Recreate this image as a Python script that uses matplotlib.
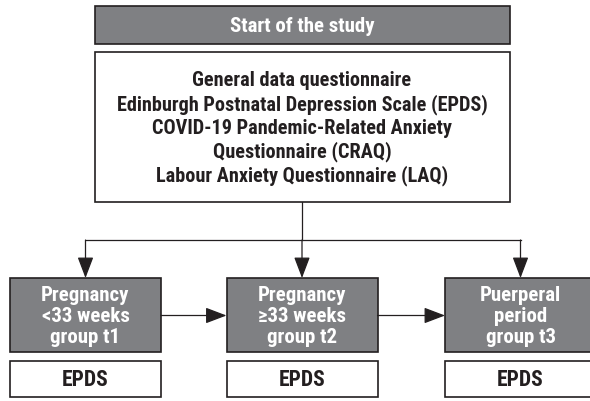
import matplotlib
matplotlib.use('Agg')
import matplotlib.pyplot as plt
from matplotlib.patches import Rectangle

# ── texts ──────────────────────────────────────────────────────────────────────
start_label = "Start of the study"
questionnaires = [
    "General data questionnaire",
    "Edinburgh Postnatal Depression Scale (EPDS)",
    "COVID-19 Pandemic-Related Anxiety",
    "Questionnaire (CRAQ)",
    "Labour Anxiety Questionnaire (LAQ)",
]
groups = [
    "Pregnancy\n<33 weeks\ngroup t1",
    "Pregnancy\n≥33 weeks\ngroup t2",
    "Puerperal\nperiod\ngroup t3",
]
group_tools = ["EPDS", "EPDS", "EPDS"]

# ── layout (pixel coords, y down) ──────────────────────────────────────────────
W, H = 590, 402
GRAY = '#7f8083'
DARK = '#231f20'
FONT = ['Roboto Condensed', 'DejaVu Sans Condensed', 'Liberation Sans Narrow',
        'Roboto', 'DejaVu Sans']

fig = plt.figure(figsize=(W / 100, H / 100), dpi=100)
ax = fig.add_axes([0, 0, 1, 1])
ax.set_xlim(0, W)
ax.set_ylim(H, 0)
ax.axis('off')


def box(x0, y0, x1, y1, fc):
    ax.add_patch(Rectangle((x0, y0), x1 - x0, y1 - y0, facecolor=fc,
                           edgecolor=DARK, lw=1.2, zorder=2))


def arrow(x0, y0, x1, y1):
    ax.annotate('', xy=(x1, y1), xytext=(x0, y0),
                arrowprops=dict(arrowstyle='-|>,head_length=1.0,head_width=0.38',
                                mutation_scale=13, color=DARK, lw=0.9,
                                shrinkA=0, shrinkB=0), zorder=3)


txt = dict(family=FONT, fontweight='bold', ha='center', va='center',
           fontstretch='condensed')

# top header box
box(95, 7, 510, 45, GRAY)
ax.text(302, 26.5, start_label, color='white', fontsize=15, **txt, zorder=4)

# questionnaire box
box(95, 53, 510, 203, 'white')
line_y = [81, 104.5, 128, 152, 176]
for s, y in zip(questionnaires, line_y):
    ax.text(302, y, s, color=DARK, fontsize=14.6, **txt, zorder=4)

# connectors
centers = [85.5, 302, 520.5]
ax.plot([302, 302], [203, 241], color=DARK, lw=0.9, zorder=1)
ax.plot([centers[0], centers[-1]], [241, 241], color=DARK, lw=0.9, zorder=1)
for cx in centers:
    arrow(cx, 241, cx, 279)

# group boxes + EPDS boxes
half = 75.5
for i, (cx, g, t) in enumerate(zip(centers, groups, group_tools)):
    box(cx - half, 279, cx + half, 353, GRAY)
    ax.text(cx, 316.5, g, color='white', fontsize=15, linespacing=1.12,
            **txt, zorder=4)
    box(cx - half, 362, cx + half, 398, 'white')
    ax.text(cx, 380.5, t, color=DARK, fontsize=15.5, **txt, zorder=4)
    if i < len(centers) - 1:
        arrow(cx + half, 316.5, centers[i + 1] - half, 316.5)

plt.savefig('out.png', dpi=100)
